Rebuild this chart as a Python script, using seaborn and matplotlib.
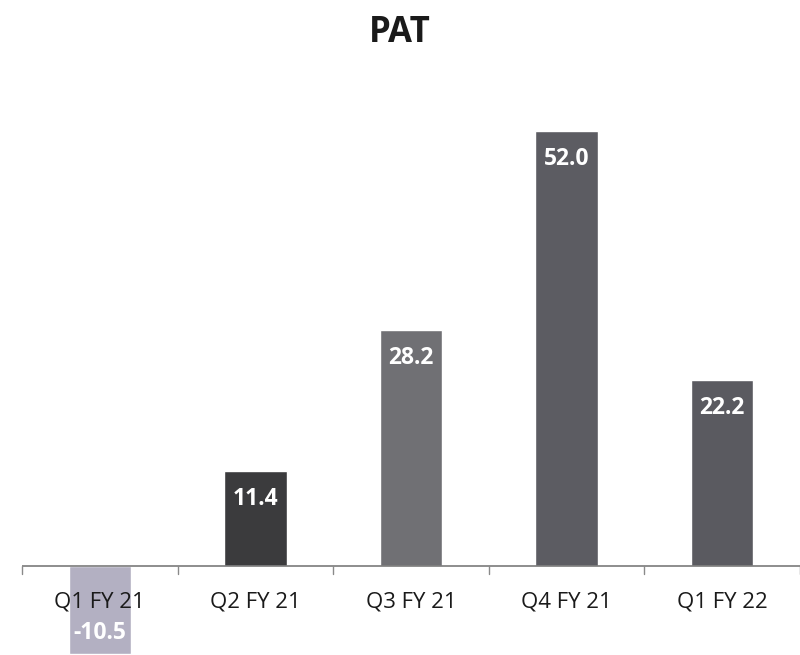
import matplotlib
matplotlib.use("Agg")
import matplotlib.pyplot as plt
import seaborn as sns
import pandas as pd

quarters = ["Q1 FY 21", "Q2 FY 21", "Q3 FY 21", "Q4 FY 21", "Q1 FY 22"]
pat = [-10.5, 11.4, 28.2, 52.0, 22.2]
bar_colors = ["#b3b0c2", "#3b3b3d", "#707074", "#5c5c62", "#5a5a60"]

sns.set_theme(style="white")
plt.rcParams["font.family"] = ["Open Sans", "DejaVu Sans"]

df = pd.DataFrame({"quarter": quarters, "pat": pat})

fig = plt.figure(figsize=(8, 6.55), dpi=100)
ax = fig.add_axes([0.0275, 0.0, 0.9725, 1.0])

sns.barplot(data=df, x="quarter", y="pat", hue="quarter", palette=bar_colors,
            width=0.4, legend=False, ax=ax, saturation=1)

ax.set_ylim(-10.63, 67.6)
ax.set_xlim(-0.5, 4.5)

for s in ["top", "right", "left", "bottom"]:
    ax.spines[s].set_visible(False)
ax.axhline(0, color="#7a7a7a", lw=1.2, zorder=3)

# boundary ticks between categories
for b in [-0.5, 0.5, 1.5, 2.5, 3.5, 4.5]:
    ax.plot([b, b], [0, -0.9], color="#8a8a8a", lw=1, zorder=3, clip_on=False)

ax.set_yticks([])
ax.set_xticks([])
ax.set_xlabel("")
ax.set_ylabel("")

# category labels just below the axis line
for i, q in enumerate(quarters):
    ax.text(i, -4.9, q, ha="center", va="baseline", fontsize=16, color="#1a1a1a")

# value labels inside the bar ends
for i, v in enumerate(pat):
    off = -24.5 if v > 0 else 10.8
    ax.annotate(f"{v:.1f}", (i, v), xytext=(0, off), textcoords="offset points",
                ha="center", va="baseline", color="white", fontsize=16.5,
                fontweight="bold", zorder=4)

fig.text(0.5, 1 - 42 / 655, "PAT", ha="center", va="baseline",
         fontsize=25, fontweight="bold", color="#1a1a1a")

fig.savefig("out.png", dpi=100)
